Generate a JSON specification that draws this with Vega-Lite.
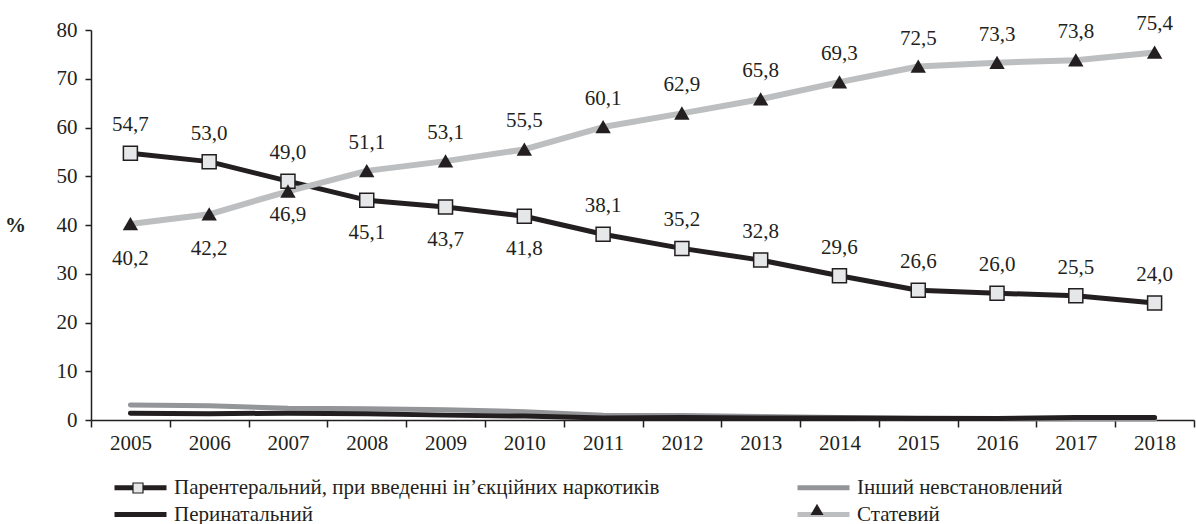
{
  "$schema": "https://vega.github.io/schema/vega-lite/v6.json",
  "width": 1103,
  "height": 390,
  "autosize": {"type": "none"},
  "padding": {"left": 91, "top": 30, "right": 2, "bottom": 104},
  "background": "white",
  "config": {
    "font": "Liberation Serif",
    "view": {"stroke": null},
    "locale": {"number": {"decimal": ",", "thousands": " ", "grouping": [3], "currency": ["", ""]}},
    "axis": {
      "domainColor": "#231f20",
      "domainWidth": 1.5,
      "tickColor": "#231f20",
      "tickWidth": 1.5,
      "labelColor": "#231f20",
      "labelFont": "Liberation Serif",
      "labelFontSize": 21,
      "titleFont": "Liberation Serif",
      "titleColor": "#231f20",
      "grid": false
    }
  },
  "data": {
    "values": [
      {"year": 2005, "series": "Парентеральний, при введенні ін’єкційних наркотиків", "value": 54.7},
      {"year": 2006, "series": "Парентеральний, при введенні ін’єкційних наркотиків", "value": 53.0},
      {"year": 2007, "series": "Парентеральний, при введенні ін’єкційних наркотиків", "value": 49.0},
      {"year": 2008, "series": "Парентеральний, при введенні ін’єкційних наркотиків", "value": 45.1},
      {"year": 2009, "series": "Парентеральний, при введенні ін’єкційних наркотиків", "value": 43.7},
      {"year": 2010, "series": "Парентеральний, при введенні ін’єкційних наркотиків", "value": 41.8},
      {"year": 2011, "series": "Парентеральний, при введенні ін’єкційних наркотиків", "value": 38.1},
      {"year": 2012, "series": "Парентеральний, при введенні ін’єкційних наркотиків", "value": 35.2},
      {"year": 2013, "series": "Парентеральний, при введенні ін’єкційних наркотиків", "value": 32.8},
      {"year": 2014, "series": "Парентеральний, при введенні ін’єкційних наркотиків", "value": 29.6},
      {"year": 2015, "series": "Парентеральний, при введенні ін’єкційних наркотиків", "value": 26.6},
      {"year": 2016, "series": "Парентеральний, при введенні ін’єкційних наркотиків", "value": 26.0},
      {"year": 2017, "series": "Парентеральний, при введенні ін’єкційних наркотиків", "value": 25.5},
      {"year": 2018, "series": "Парентеральний, при введенні ін’єкційних наркотиків", "value": 24.0},
      {"year": 2005, "series": "Статевий", "value": 40.2},
      {"year": 2006, "series": "Статевий", "value": 42.2},
      {"year": 2007, "series": "Статевий", "value": 46.9},
      {"year": 2008, "series": "Статевий", "value": 51.1},
      {"year": 2009, "series": "Статевий", "value": 53.1},
      {"year": 2010, "series": "Статевий", "value": 55.5},
      {"year": 2011, "series": "Статевий", "value": 60.1},
      {"year": 2012, "series": "Статевий", "value": 62.9},
      {"year": 2013, "series": "Статевий", "value": 65.8},
      {"year": 2014, "series": "Статевий", "value": 69.3},
      {"year": 2015, "series": "Статевий", "value": 72.5},
      {"year": 2016, "series": "Статевий", "value": 73.3},
      {"year": 2017, "series": "Статевий", "value": 73.8},
      {"year": 2018, "series": "Статевий", "value": 75.4},
      {"year": 2005, "series": "Інший невстановлений", "value": 3.1},
      {"year": 2006, "series": "Інший невстановлений", "value": 2.9},
      {"year": 2007, "series": "Інший невстановлений", "value": 2.4},
      {"year": 2008, "series": "Інший невстановлений", "value": 2.3},
      {"year": 2009, "series": "Інший невстановлений", "value": 2.1},
      {"year": 2010, "series": "Інший невстановлений", "value": 1.7},
      {"year": 2011, "series": "Інший невстановлений", "value": 1.0},
      {"year": 2012, "series": "Інший невстановлений", "value": 0.9},
      {"year": 2013, "series": "Інший невстановлений", "value": 0.7},
      {"year": 2014, "series": "Інший невстановлений", "value": 0.5},
      {"year": 2015, "series": "Інший невстановлений", "value": 0.4},
      {"year": 2016, "series": "Інший невстановлений", "value": 0.3},
      {"year": 2017, "series": "Інший невстановлений", "value": 0.2},
      {"year": 2018, "series": "Інший невстановлений", "value": 0.2},
      {"year": 2005, "series": "Перинатальний", "value": 1.4},
      {"year": 2006, "series": "Перинатальний", "value": 1.3},
      {"year": 2007, "series": "Перинатальний", "value": 1.4},
      {"year": 2008, "series": "Перинатальний", "value": 1.3},
      {"year": 2009, "series": "Перинатальний", "value": 1.0},
      {"year": 2010, "series": "Перинатальний", "value": 0.8},
      {"year": 2011, "series": "Перинатальний", "value": 0.4},
      {"year": 2012, "series": "Перинатальний", "value": 0.5},
      {"year": 2013, "series": "Перинатальний", "value": 0.4},
      {"year": 2014, "series": "Перинатальний", "value": 0.4},
      {"year": 2015, "series": "Перинатальний", "value": 0.3},
      {"year": 2016, "series": "Перинатальний", "value": 0.3},
      {"year": 2017, "series": "Перинатальний", "value": 0.5},
      {"year": 2018, "series": "Перинатальний", "value": 0.5}
    ]
  },
  "encoding": {
    "x": {
      "field": "year",
      "type": "ordinal",
      "bandPosition": 0.5,
      "scale": {"type": "band", "paddingInner": 0, "paddingOuter": 0},
      "axis": {"title": null, "labelAngle": 0, "tickBand": "extent", "tickSize": 7, "labelPadding": 5}
    },
    "y": {
      "field": "value",
      "type": "quantitative",
      "scale": {"domain": [0, 80], "nice": false},
      "axis": {
        "values": [0, 10, 20, 30, 40, 50, 60, 70, 80],
        "tickSize": 6,
        "labelPadding": 8,
        "title": "%",
        "titleAngle": 0,
        "titleX": -76,
        "titleY": 195,
        "titleAlign": "center",
        "titleBaseline": "middle",
        "titleFontSize": 21,
        "titleFontWeight": "bold"
      }
    }
  },
  "layer": [
    {
      "transform": [{"filter": "datum.series === 'Інший невстановлений'"}],
      "mark": {"type": "line", "strokeWidth": 5, "strokeCap": "round", "strokeJoin": "round"},
      "encoding": {
        "color": {
          "field": "series",
          "type": "nominal",
          "scale": {
            "domain": ["Парентеральний, при введенні ін’єкційних наркотиків", "Перинатальний", "Інший невстановлений", "Статевий"],
            "range": ["#231f20", "#231f20", "#939598", "#bcbec0"]
          },
          "legend": {
            "orient": "none",
            "legendX": 37,
            "legendY": 445,
            "columns": 2,
            "columnPadding": 127,
            "rowPadding": 4,
            "title": null,
            "symbolType": "M-2.6,0H2.6",
            "symbolSize": 400,
            "symbolStrokeWidth": 5,
            "labelOffset": 21,
            "labelFont": "Liberation Serif",
            "labelFontSize": 21,
            "labelColor": "#231f20",
            "labelLimit": 0
          }
        }
      }
    },
    {
      "transform": [{"filter": "datum.series === 'Перинатальний'"}],
      "mark": {"type": "line", "strokeWidth": 5, "strokeCap": "round", "strokeJoin": "round"},
      "encoding": {"color": {"field": "series", "type": "nominal"}}
    },
    {
      "transform": [{"filter": "indexof(datum.series, 'Парентеральний') === 0"}],
      "mark": {"type": "line", "strokeWidth": 5, "strokeCap": "round", "strokeJoin": "round"},
      "encoding": {"color": {"field": "series", "type": "nominal"}}
    },
    {
      "transform": [{"filter": "datum.series === 'Статевий'"}],
      "mark": {"type": "line", "strokeWidth": 6, "strokeCap": "round", "strokeJoin": "round"},
      "encoding": {"color": {"field": "series", "type": "nominal"}}
    },
    {
      "transform": [{"filter": "datum.series === 'Статевий' || indexof(datum.series, 'Парентеральний') === 0"}],
      "mark": {"type": "point", "filled": true, "size": 784, "opacity": 1},
      "encoding": {
        "shape": {
          "field": "series",
          "type": "nominal",
          "scale": {
            "domain": ["Парентеральний, при введенні ін’єкційних наркотиків", "Перинатальний", "Інший невстановлений ", "Статевий"],
            "range": ["M-0.5,-0.5H0.5V0.5H-0.5Z", "M0,0", "M0,0", "M0,-0.5L0.55,0.45H-0.55Z"]
          },
          "legend": {
            "orient": "none",
            "legendX": 36,
            "legendY": 447,
            "columns": 2,
            "columnPadding": 150,
            "rowPadding": 1,
            "title": null,
            "symbolSize": 400,
            "symbolStrokeWidth": 1.2,
            "symbolStrokeColor": "#231f20",
            "labelOffset": 21,
            "labelFont": "Liberation Serif",
            "labelFontSize": 21,
            "labelOpacity": 0,
            "labelLimit": 0
          }
        },
        "fill": {
          "field": "series",
          "type": "nominal",
          "scale": {
            "domain": ["Парентеральний, при введенні ін’єкційних наркотиків", "Перинатальний", "Інший невстановлений ", "Статевий"],
            "range": ["#e6e7e8", "#ffffff", "#ffffff", "#231f20"]
          }
        },
        "stroke": {
          "field": "series",
          "type": "nominal",
          "scale": {
            "domain": ["Парентеральний, при введенні ін’єкційних наркотиків", "Перинатальний", "Інший невстановлений ", "Статевий"],
            "range": ["#231f20", "#231f20", "#231f20", "#231f20"]
          }
        },
        "strokeWidth": {"condition": {"test": "datum.series === 'Статевий'", "value": 0}, "value": 1.5}
      }
    },
    {
      "transform": [{"filter": "indexof(datum.series, 'Парентеральний') === 0 && (datum.year <= 2007 || datum.year >= 2011)"}],
      "mark": {"type": "text", "dy": -28, "fontSize": 21, "color": "#231f20", "font": "Liberation Serif"},
      "encoding": {"text": {"field": "value", "type": "quantitative", "format": ".1f"}}
    },
    {
      "transform": [{"filter": "indexof(datum.series, 'Парентеральний') === 0 && datum.year >= 2008 && datum.year <= 2010"}],
      "mark": {"type": "text", "dy": 33, "fontSize": 21, "color": "#231f20", "font": "Liberation Serif"},
      "encoding": {"text": {"field": "value", "type": "quantitative", "format": ".1f"}}
    },
    {
      "transform": [{"filter": "datum.series === 'Статевий' && datum.year >= 2008"}],
      "mark": {"type": "text", "dy": -28, "fontSize": 21, "color": "#231f20", "font": "Liberation Serif"},
      "encoding": {"text": {"field": "value", "type": "quantitative", "format": ".1f"}}
    },
    {
      "transform": [{"filter": "datum.series === 'Статевий' && datum.year <= 2006"}],
      "mark": {"type": "text", "dy": 35, "fontSize": 21, "color": "#231f20", "font": "Liberation Serif"},
      "encoding": {"text": {"field": "value", "type": "quantitative", "format": ".1f"}}
    },
    {
      "transform": [{"filter": "datum.series === 'Статевий' && datum.year === 2007"}],
      "mark": {"type": "text", "dy": 24, "fontSize": 21, "color": "#231f20", "font": "Liberation Serif"},
      "encoding": {"text": {"field": "value", "type": "quantitative", "format": ".1f"}}
    }
  ]
}
